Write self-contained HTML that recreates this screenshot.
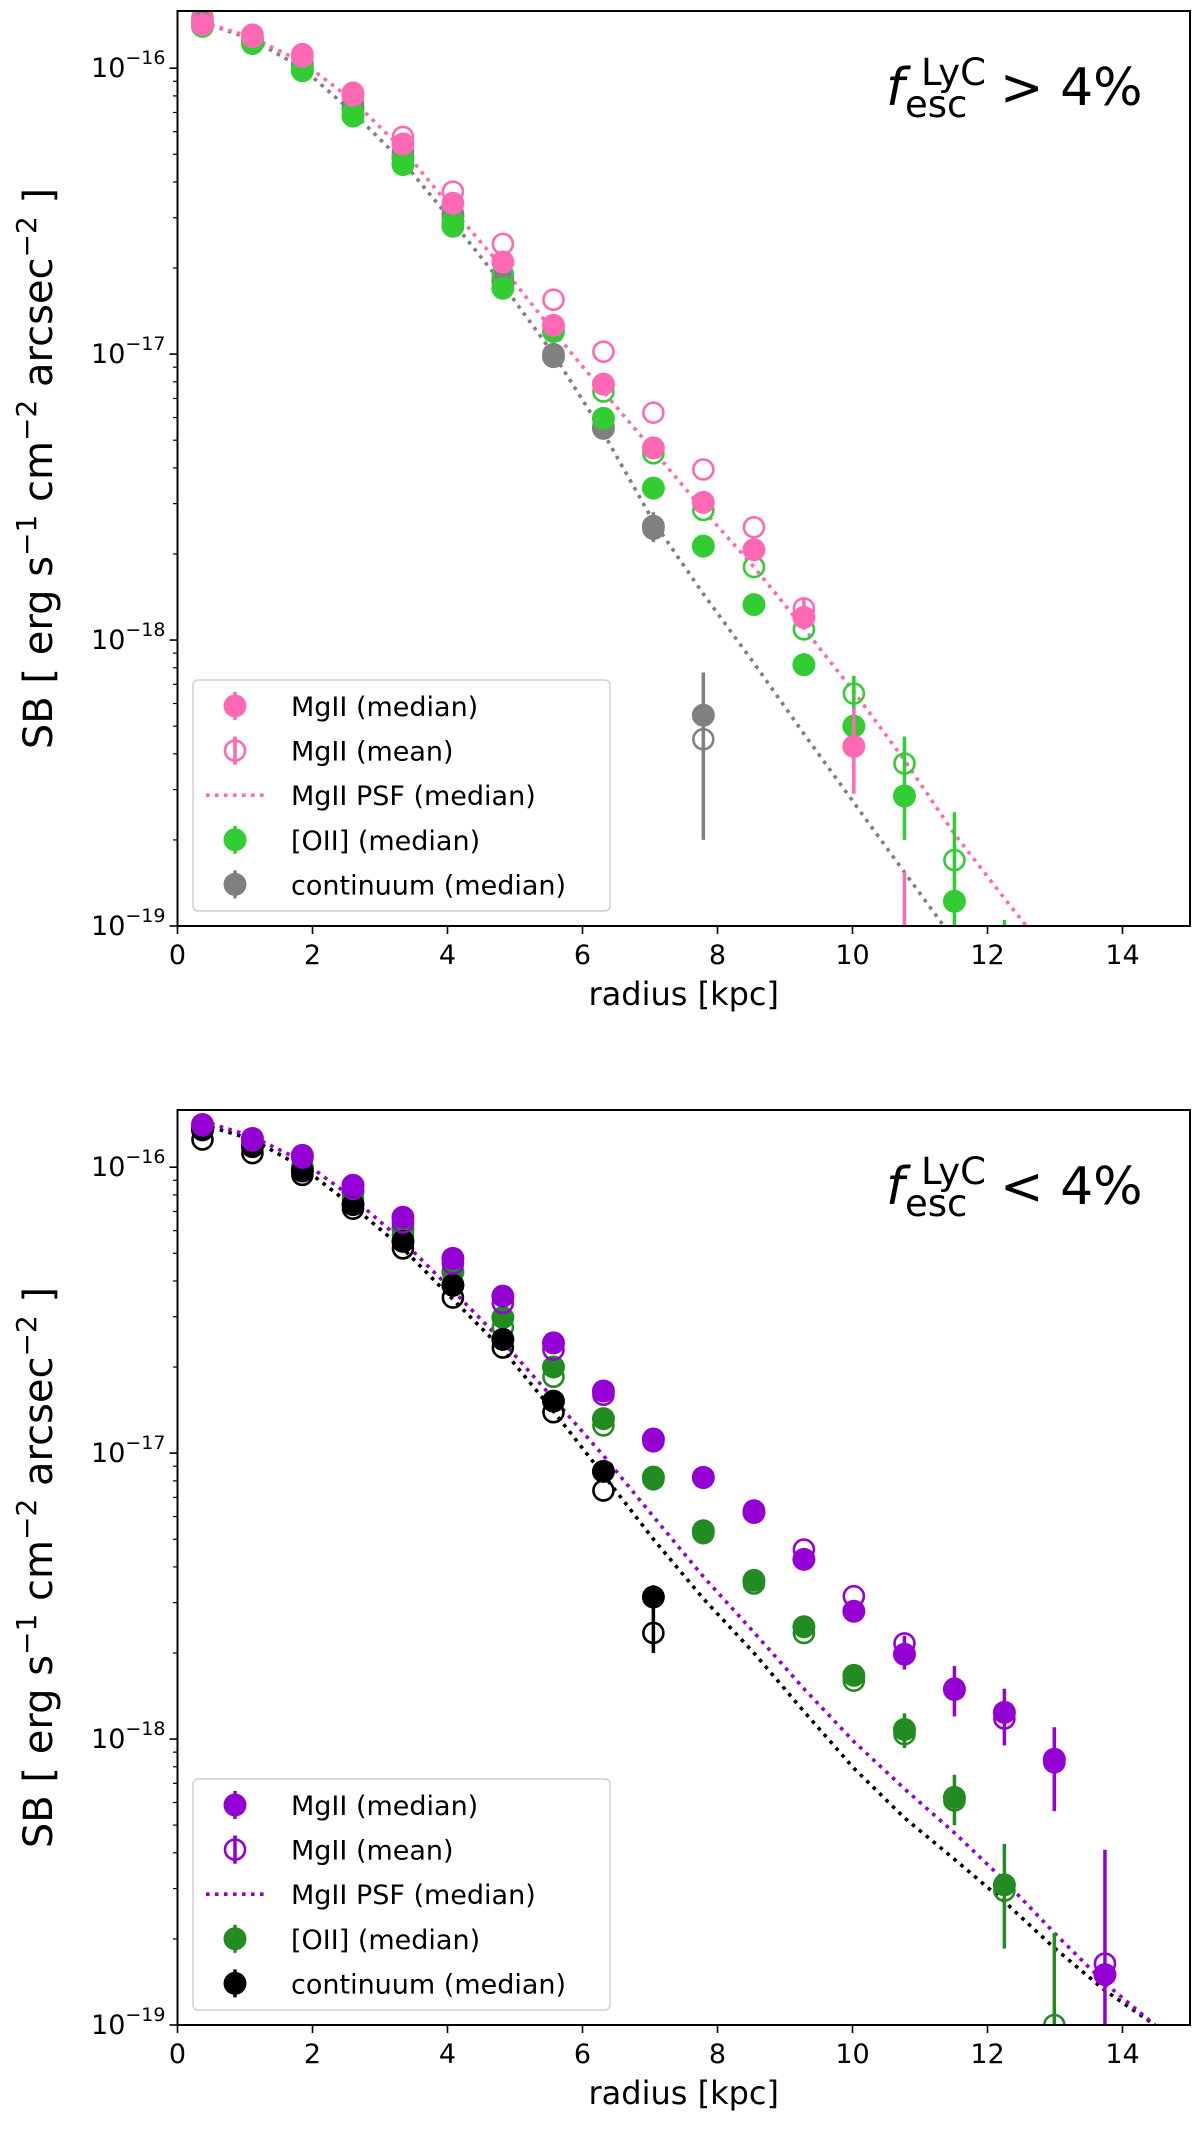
<!DOCTYPE html>
<html><head><meta charset="utf-8"><style>
html,body{margin:0;padding:0;background:#fff;}
svg{display:block;font-family:"DejaVu Sans","Liberation Sans",sans-serif;}
</style></head><body>
<svg id="chart" width="1200" height="2134" viewBox="0 0 1200 2134" xmlns="http://www.w3.org/2000/svg">
<rect width="1200" height="2134" fill="#fff"/>
</svg>
<script>
// ---------- data ----------
const radii = [0.37,1.11,1.85,2.6,3.34,4.08,4.82,5.57,6.31,7.05,7.79,8.54,9.28,10.02,10.77,11.51,12.25,12.99,13.74];
const psfRadii = [0.37,1.11,1.85,2.6,3.34,4.08,4.82,5.57,6.31,7.05,7.79,8.54,9.28,10.02,10.77,11.51,12.25,12.99,13.74,14.48];
const xTicks = [0,2,4,6,8,10,12,14];
const yTickExps = [-16,-17,-18,-19];

// top panel (fesc > 4%)
const topMgMedian = [1.42e-16,1.29e-16,1.10e-16,8.05e-17,5.43e-17,3.37e-17,2.1e-17,1.26e-17,7.85e-18,4.7e-18,3.03e-18,2.07e-18,1.2e-18,4.25e-19,null,null,null,null,null];
const topMgMean = [1.48e-16,1.31e-16,1.12e-16,8.2e-17,5.75e-17,3.7e-17,2.43e-17,1.55e-17,1.02e-17,6.24e-18,3.95e-18,2.48e-18,1.29e-18,null,null,null,null,null,null];
const topMgErrLo = [null,null,null,null,null,null,null,null,null,null,null,null,1.1e-18,2.9e-19,5e-20,null,null,null,null];
const topMgErrHi = [null,null,null,null,null,null,null,null,null,null,null,null,1.4e-18,5.8e-19,1.55e-19,null,null,null,null];
const topOiiMedian = [1.40e-16,1.22e-16,9.8e-17,6.8e-17,4.6e-17,2.8e-17,1.7e-17,1.2e-17,5.96e-18,3.4e-18,2.13e-18,1.33e-18,8.2e-19,5e-19,2.85e-19,1.22e-19,null,null,null];
const topOiiMean = [1.42e-16,1.25e-16,1.0e-16,7.0e-17,4.8e-17,2.9e-17,1.9e-17,1.2e-17,7.4e-18,4.5e-18,2.85e-18,1.8e-18,1.09e-18,6.5e-19,3.7e-19,1.7e-19,null,null,null];
const topOiiErrLo = [null,null,null,null,null,null,null,null,null,null,null,null,7.5e-19,4e-19,2e-19,5e-20,5e-20,null,null];
const topOiiErrHi = [null,null,null,null,null,null,null,null,null,null,null,null,9e-19,7.5e-19,4.6e-19,2.5e-19,1.05e-19,null,null];
const topContMedian = [1.45e-16,1.25e-16,1.02e-16,7.2e-17,4.9e-17,3.04e-17,1.8e-17,9.8e-18,5.5e-18,2.5e-18,5.46e-19,null,null,null,null,null,null,null,null];
const topContMean = [1.5e-16,1.27e-16,1.04e-16,7.5e-17,5.1e-17,3.1e-17,1.85e-17,1.0e-17,5.6e-18,2.45e-18,4.5e-19,null,null,null,null,null,null,null,null];
const topContErrLo = [null,null,null,null,null,null,null,null,null,2.2e-18,2e-19,null,null,null,null,null,null,null,null];
const topContErrHi = [null,null,null,null,null,null,null,null,null,2.8e-18,7.7e-19,null,null,null,null,null,null,null,null];
const topMgPsf = [1.45e-16,1.28e-16,1.05e-16,7.7e-17,5.2e-17,3.2e-17,2.0e-17,1.2e-17,7.4e-18,4.6e-18,2.85e-18,1.8e-18,1.1e-18,6.6e-19,3.8e-19,2.1e-19,1.25e-19,7.5e-20,4.5e-20,2.7e-20];
const topContPsf = [1.45e-16,1.26e-16,1.0e-16,7.0e-17,4.7e-17,2.9e-17,1.75e-17,1.0e-17,5.3e-18,2.6e-18,1.45e-18,8.3e-19,4.7e-19,2.7e-19,1.54e-19,8.9e-20,5e-20,2.9e-20,1.6e-20,9e-21];

// bottom panel (fesc < 4%)
const botMgMedian = [1.41e-16,1.26e-16,1.1e-16,8.65e-17,6.68e-17,4.8e-17,3.54e-17,2.43e-17,1.65e-17,1.12e-17,8.23e-18,6.2e-18,4.25e-18,2.8e-18,1.98e-18,1.49e-18,1.24e-18,8.5e-19,1.5e-19];
const botMgMean = [1.4e-16,1.24e-16,1.08e-16,8.4e-17,6.4e-17,4.6e-17,3.35e-17,2.3e-17,1.6e-17,1.1e-17,8.2e-18,6.3e-18,4.6e-18,3.16e-18,2.16e-18,1.5e-18,1.18e-18,8.3e-19,1.64e-19];
const botMgErrLo = [null,null,null,null,null,null,null,null,null,null,null,null,null,null,1.75e-18,1.2e-18,9.5e-19,5.6e-19,5e-20];
const botMgErrHi = [null,null,null,null,null,null,null,null,null,null,null,null,null,null,2.3e-18,1.8e-18,1.5e-18,1.1e-18,4.1e-19];
const botOiiMedian = [1.38e-16,1.2e-16,1.0e-16,8.2e-17,6.1e-17,4.3e-17,2.98e-17,2.0e-17,1.32e-17,8.24e-18,5.35e-18,3.59e-18,2.47e-18,1.67e-18,1.08e-18,6.25e-19,3.09e-19,null,null];
const botOiiMean = [1.36e-16,1.18e-16,9.8e-17,7.8e-17,5.8e-17,3.9e-17,2.75e-17,1.85e-17,1.25e-17,8.1e-18,5.25e-18,3.5e-18,2.35e-18,1.6e-18,1.04e-18,6.1e-19,2.95e-19,1.0e-19,null];
const botOiiErrLo = [null,null,null,null,null,null,null,null,null,null,null,null,null,null,9.3e-19,5e-19,1.85e-19,5e-20,null];
const botOiiErrHi = [null,null,null,null,null,null,null,null,null,null,null,null,null,null,1.23e-18,7.5e-19,4.3e-19,2.1e-19,null];
const botContMedian = [1.35e-16,1.18e-16,9.7e-17,7.4e-17,5.5e-17,3.86e-17,2.5e-17,1.52e-17,8.63e-18,3.14e-18,null,null,null,null,null,null,null,null,null];
const botContMean = [1.25e-16,1.12e-16,9.4e-17,7.16e-17,5.2e-17,3.5e-17,2.34e-17,1.39e-17,7.4e-18,2.35e-18,null,null,null,null,null,null,null,null,null];
const botContErrLo = [null,null,null,null,null,null,null,null,null,2.0e-18,null,null,null,null,null,null,null,null,null];
const botContErrHi = [null,null,null,null,null,null,null,null,null,3.45e-18,null,null,null,null,null,null,null,null,null];
const botMgPsf = [1.45e-16,1.28e-16,1.05e-16,7.8e-17,5.5e-17,3.7e-17,2.45e-17,1.55e-17,9.8e-18,6.0e-18,3.7e-18,2.36e-18,1.5e-18,9.8e-19,6.7e-19,4.7e-19,3.2e-19,2.1e-19,1.4e-19,1.0e-19];
const botContPsf = [1.41e-16,1.25e-16,1.0e-16,7.3e-17,5.2e-17,3.45e-17,2.3e-17,1.4e-17,8.4e-18,5.0e-18,3.1e-18,2.0e-18,1.25e-18,7.9e-19,5.3e-19,3.8e-19,2.7e-19,1.86e-19,1.32e-19,1.0e-19];

// ---------- drawing ----------
const NS = "http://www.w3.org/2000/svg";
const svg = document.getElementById('chart');
const AX_L = 177.5, AX_R = 1190, AX_H = 915, LOGMAX = -15.8, LOGMIN = -19;
function xScale(r){ return AX_L + r * (AX_R - AX_L) / 15; }
function mk(tag, attrs, parent){ const e = document.createElementNS(NS, tag); for (const k in attrs) e.setAttribute(k, attrs[k]); (parent||svg).appendChild(e); return e; }

function panel(p){
  const top = p.top, bot = top + AX_H;
  const yScale = v => top + (LOGMAX - Math.log10(v)) * AX_H / (LOGMAX - LOGMIN);
  const g = mk('g', {}); 
  
  
  const cid = 'clip-' + p.name;
  const cp = mk('clipPath', {id: cid}, g);
  mk('rect', {x: AX_L, y: top, width: AX_R - AX_L, height: AX_H}, cp);
  const plot = mk('g', {'clip-path': 'url(#' + cid + ')'}, g);
  
  

  function psf(vals, color, name){
    const pts = psfRadii.map((r,i) => xScale(r).toFixed(1) + ',' + yScale(vals[i]).toFixed(1)).join(' ');
    const l = mk('polyline', {points: pts, fill: 'none', stroke: color, 'stroke-width': 3.6, 'stroke-dasharray': '3.6 5.4', 'stroke-linejoin': 'round'}, plot);
    
    
  }
  function series(vals, lo, hi, color, open, name){
    const sg = mk('g', {}, plot);
    
    
    radii.forEach((r,i) => {
      if (lo && lo[i] != null) {
        const eb = mk('line', {x1: xScale(r), x2: xScale(r), y1: yScale(lo[i]), y2: yScale(hi[i]), stroke: color, 'stroke-width': 3.5}, sg);
        
        
      }
      if (vals[i] == null) return;
      const c = mk('circle', {cx: xScale(r), cy: yScale(vals[i]), r: open ? 10 : 11.5,
        fill: open ? 'none' : color, stroke: color, 'stroke-width': open ? 2.6 : 0}, sg);
      
      
    });
  }
  psf(p.contPsf, p.cCont, 'continuum-psf-line');
  psf(p.mgPsf, p.cMg, 'mgii-psf-line');
  p.order.forEach(s => series(s[0], s[1], s[2], s[3], s[4], s[5]));

  const fr = mk('rect', {x: AX_L, y: top, width: AX_R - AX_L, height: AX_H, fill: 'none', stroke: '#000', 'stroke-width': 2}, g);
  
  
  xTicks.forEach(t => {
    mk('line', {x1: xScale(t), x2: xScale(t), y1: bot, y2: bot + 8, stroke: '#000', 'stroke-width': 1.6}, g);
    const tx = mk('text', {x: xScale(t), y: bot + 38, 'font-size': 27, 'text-anchor': 'middle'}, g);
    tx.textContent = t;
    
    
  });
  yTickExps.forEach(e => {
    const y = yScale(Math.pow(10, e));
    mk('line', {x1: AX_L - 8, x2: AX_L, y1: y, y2: y, stroke: '#000', 'stroke-width': 1.6}, g);
    const tx = mk('text', {x: AX_L - 12, y: y + 9, 'font-size': 27, 'text-anchor': 'end'}, g);
    
    
    tx.textContent = '10';
    const sp = mk('tspan', {dy: -13, 'font-size': 19}, tx);
    sp.textContent = '\u2212' + (-e);
    for (let m = 2; m <= 9; m++) {
      const v = Math.pow(10, e) * m;
      if (Math.log10(v) > LOGMAX) continue;
      const ym = yScale(v);
      mk('line', {x1: AX_L - 4.5, x2: AX_L, y1: ym, y2: ym, stroke: '#000', 'stroke-width': 1.2}, g);
    }
  });
  const xl = mk('text', {x: (AX_L + AX_R) / 2, y: bot + 79, 'font-size': 32, 'text-anchor': 'middle'}, g);
  xl.textContent = 'radius [kpc]';
  
  
  const yl = mk('text', {x: 0, y: 0, 'font-size': 40, 'text-anchor': 'middle', transform: 'translate(52,' + (top + AX_H / 2) + ') rotate(-90)'}, g);
  
  
  yl.innerHTML = 'SB [ erg s<tspan dy="-16" font-size="28">\u22121</tspan><tspan dy="16"> cm</tspan><tspan dy="-16" font-size="28">\u22122</tspan><tspan dy="16"> arcsec</tspan><tspan dy="-16" font-size="28">\u22122</tspan><tspan dy="16"> ]</tspan>';

  const an = mk('g', {}, g);
  
  
  const f = mk('text', {x: 886, y: top + 94, 'font-size': 52, 'font-style': 'italic'}, an); f.textContent = 'f';
  const s1 = mk('text', {x: 921, y: top + 74, 'font-size': 37}, an); s1.textContent = 'LyC';
  const s2 = mk('text', {x: 905, y: top + 106, 'font-size': 37}, an); s2.textContent = 'esc';
  const rel = mk('text', {x: 1000, y: top + 94, 'font-size': 52}, an); rel.textContent = p.rel + ' 4%';

  const lg = mk('g', {}, g);
  
  
  mk('rect', {x: 193, y: p.legTop, width: 417, height: 231, rx: 5, fill: '#fff', 'fill-opacity': 0.85, stroke: '#d0d0d0', 'stroke-width': 1.5}, lg);
  p.legend.forEach((it, i) => {
    const y = p.legTop + 26 + i * 44.6;
    const eg = mk('g', {}, lg);
    
    
    if (it.type === 'line') {
      mk('line', {x1: 206, x2: 266, y1: y, y2: y, stroke: it.color, 'stroke-width': 3.6, 'stroke-dasharray': '3.6 5.4'}, eg);
    } else {
      mk('line', {x1: 235, x2: 235, y1: y - 14, y2: y + 14, stroke: it.color, 'stroke-width': 3.5}, eg);
      mk('circle', {cx: 235, cy: y, r: it.type === 'open' ? 10 : 11.5, fill: it.type === 'open' ? '#fff' : it.color, stroke: it.color, 'stroke-width': it.type === 'open' ? 2.6 : 0}, eg);
      if (it.type === 'open') mk('line', {x1: 235, x2: 235, y1: y - 14, y2: y + 14, stroke: it.color, 'stroke-width': 3.5}, eg);
    }
    const t = mk('text', {x: 291, y: y + 10, 'font-size': 27}, eg);
    t.textContent = it.label;
  });
}

panel({name: 'panel-high-fesc', top: 11, rel: '>', legTop: 680,
  cMg: '#ff69b4', cCont: '#808080', mgPsf: topMgPsf, contPsf: topContPsf,
  order: [
    [topContMean, null, null, '#808080', true, 'continuum-mean-series'],
    [topContMedian, topContErrLo, topContErrHi, '#808080', false, 'continuum-median-series'],
    [topOiiMean, null, null, '#32cd32', true, 'oii-mean-series'],
    [topOiiMedian, topOiiErrLo, topOiiErrHi, '#32cd32', false, 'oii-median-series'],
    [topMgMean, null, null, '#ff69b4', true, 'mgii-mean-series'],
    [topMgMedian, topMgErrLo, topMgErrHi, '#ff69b4', false, 'mgii-median-series']
  ],
  legend: [
    {type: 'filled', color: '#ff69b4', label: 'MgII (median)'},
    {type: 'open', color: '#ff69b4', label: 'MgII (mean)'},
    {type: 'line', color: '#ff69b4', label: 'MgII PSF (median)'},
    {type: 'filled', color: '#32cd32', label: '[OII] (median)'},
    {type: 'filled', color: '#808080', label: 'continuum (median)'}
  ]});

panel({name: 'panel-low-fesc', top: 1110, rel: '<', legTop: 1779,
  cMg: '#9400d3', cCont: '#000000', mgPsf: botMgPsf, contPsf: botContPsf,
  order: [
    [botOiiMean, null, null, '#228b22', true, 'oii-mean-series'],
    [botOiiMedian, botOiiErrLo, botOiiErrHi, '#228b22', false, 'oii-median-series'],
    [botContMean, null, null, '#000000', true, 'continuum-mean-series'],
    [botContMedian, botContErrLo, botContErrHi, '#000000', false, 'continuum-median-series'],
    [botMgMean, null, null, '#9400d3', true, 'mgii-mean-series'],
    [botMgMedian, botMgErrLo, botMgErrHi, '#9400d3', false, 'mgii-median-series']
  ],
  legend: [
    {type: 'filled', color: '#9400d3', label: 'MgII (median)'},
    {type: 'open', color: '#9400d3', label: 'MgII (mean)'},
    {type: 'line', color: '#9400d3', label: 'MgII PSF (median)'},
    {type: 'filled', color: '#228b22', label: '[OII] (median)'},
    {type: 'filled', color: '#000000', label: 'continuum (median)'}
  ]});
</script>
</body></html>
